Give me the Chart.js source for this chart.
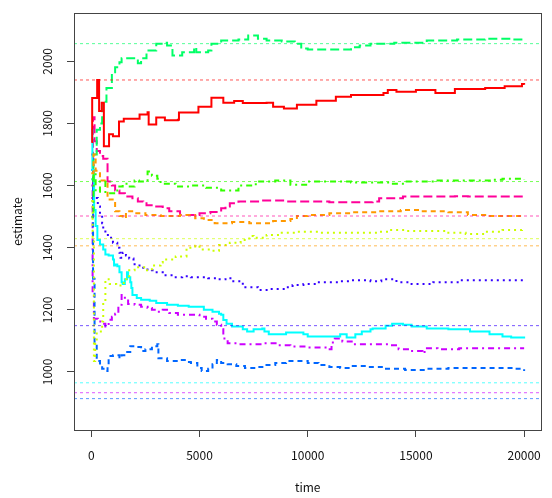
<!DOCTYPE html>
<html>
<head>
<meta charset="utf-8">
<script src="https://cdn.jsdelivr.net/npm/chart.js@4.4.0/dist/chart.umd.min.js"></script>
<style>
html, body { margin: 0; padding: 0; background: #fff; }
</style>
</head>
<body>
<canvas id="estChart" width="552" height="498"></canvas>
<script>
// running estimates over time, [time, estimate]
var red = [[0,1740],[40,1882],[270,1940],[360,1840],[480,1867],[580,1727],[820,1765],[1000,1759],[1280,1806],[1500,1815],[2230,1829],[2600,1836],[2650,1797],[3000,1819],[3400,1810],[4000,1812],[4050,1835],[4950,1854],[5550,1883],[6100,1867],[6600,1872],[7000,1866],[8100,1867],[8400,1854],[8900,1848],[9500,1860],[10400,1873],[11300,1886],[12000,1892],[13500,1898],[13700,1908],[14100,1902],[15000,1908],[15900,1898],[16800,1911],[18200,1914],[19100,1920],[19900,1927],[20000,1925]];
var orange = [[0,1640],[100,1700],[200,1648],[400,1616],[750,1555],[1100,1517],[1300,1502],[1450,1495],[1600,1517],[2000,1511],[2500,1505],[3200,1502],[4100,1505],[4800,1495],[5200,1489],[5700,1479],[6500,1483],[7300,1479],[8400,1486],[9200,1492],[9500,1502],[10000,1505],[11000,1511],[12000,1514],[13200,1517],[14300,1521],[15200,1517],[16500,1514],[17400,1505],[18200,1502],[19900,1505],[20000,1505]];
var yellowGreen = [[0,1550],[60,1420],[120,1035],[180,1098],[250,1130],[500,1162],[550,1225],[650,1298],[850,1283],[1150,1278],[1400,1283],[1500,1298],[1750,1327],[2000,1337],[2500,1327],[2800,1343],[3200,1352],[3300,1362],[3900,1372],[4400,1400],[4800,1406],[5000,1394],[5500,1390],[5900,1409],[6400,1416],[6900,1425],[7300,1438],[7500,1432],[8100,1441],[8800,1448],[9500,1451],[10500,1448],[13200,1451],[13800,1457],[14500,1454],[16400,1448],[17300,1444],[18200,1451],[19000,1457],[19900,1460],[20000,1460]];
var green = [[0,1500],[100,1640],[200,1580],[400,1613],[650,1575],[1200,1597],[1450,1606],[1700,1597],[2000,1616],[2200,1613],[2600,1645],[2800,1632],[3050,1622],[3200,1606],[3900,1597],[4600,1600],[5300,1593],[6000,1584],[6800,1600],[7600,1613],[8500,1616],[9200,1603],[10000,1613],[12000,1610],[13800,1606],[14500,1613],[16000,1616],[18500,1619],[19000,1622],[20000,1619]];
var springGreen = [[0,1620],[100,1700],[250,1780],[400,1800],[500,1870],[700,1914],[950,1965],[1100,1981],[1300,1997],[1400,2010],[1700,2010],[2150,1994],[2300,2010],[2550,2035],[3000,2057],[3300,2060],[3500,2051],[3750,2019],[4200,2029],[4750,2045],[4850,2029],[5400,2035],[5550,2057],[6000,2067],[6800,2070],[7250,2083],[7700,2073],[8100,2067],[8800,2064],[9400,2057],[9700,2041],[10000,2038],[11400,2038],[12000,2045],[12400,2051],[12900,2057],[14000,2060],[15500,2067],[16900,2070],[18200,2073],[19500,2070],[20000,2070]];
var cyan = [[0,1780],[50,1650],[130,1521],[200,1470],[280,1425],[400,1410],[550,1394],[650,1378],[800,1375],[1000,1362],[1050,1343],[1100,1346],[1200,1340],[1300,1321],[1400,1289],[1450,1283],[1550,1298],[1650,1321],[1700,1305],[1800,1289],[1850,1270],[1900,1248],[2100,1238],[2300,1232],[2700,1229],[3000,1222],[3500,1216],[4000,1213],[4500,1210],[4900,1210],[5200,1200],[5600,1194],[5900,1187],[6000,1184],[6100,1167],[6250,1155],[6500,1146],[7000,1137],[7200,1130],[7500,1137],[7900,1140],[8000,1130],[8200,1121],[8600,1121],[9000,1127],[9500,1127],[9800,1121],[10000,1114],[11300,1114],[11500,1121],[11800,1111],[12200,1121],[12500,1130],[12900,1137],[13000,1140],[13600,1149],[13900,1155],[14400,1152],[14800,1146],[15500,1140],[16500,1137],[17500,1130],[18400,1121],[19000,1114],[19400,1111],[20000,1108]];
var blue = [[0,1650],[80,1300],[150,1089],[250,1035],[400,1019],[500,1010],[650,1003],[750,1019],[800,1051],[1000,1054],[1300,1044],[1400,1054],[1600,1064],[1800,1083],[2100,1080],[2300,1067],[2500,1073],[2800,1083],[3050,1089],[3100,1044],[3500,1035],[4000,1038],[4400,1032],[4600,1029],[4900,1013],[5100,1003],[5400,1010],[5600,1025],[5800,1038],[6000,1029],[6300,1025],[6700,1019],[7100,1013],[7600,1016],[8000,1022],[8500,1029],[9000,1035],[9500,1035],[10000,1029],[10500,1022],[11000,1016],[11500,1013],[12000,1019],[12800,1016],[13500,1010],[14500,1006],[15500,1010],[16500,1013],[18000,1013],[19500,1010],[20000,1003]];
var violet = [[0,1700],[100,1560],[300,1533],[400,1505],[500,1479],[550,1457],[650,1441],[850,1432],[1000,1416],[1200,1400],[1300,1384],[1350,1368],[1450,1384],[1600,1375],[1750,1365],[1950,1352],[2000,1343],[2400,1330],[2800,1327],[2900,1321],[3300,1311],[3900,1305],[4200,1308],[4600,1305],[5000,1305],[5400,1302],[5800,1298],[6200,1302],[6500,1292],[7000,1273],[7700,1264],[8200,1267],[9000,1273],[9300,1280],[9800,1283],[10400,1289],[11500,1292],[12000,1295],[12900,1292],[13400,1298],[14100,1289],[14800,1283],[15800,1289],[17000,1295],[19500,1295],[20000,1295]];
var magenta = [[0,1600],[60,1250],[120,1171],[300,1162],[500,1155],[650,1146],[800,1168],[950,1178],[1100,1187],[1250,1216],[1400,1248],[1550,1235],[1700,1219],[2000,1216],[2300,1210],[2600,1206],[2800,1200],[3000,1194],[3300,1200],[3600,1190],[4000,1184],[4500,1184],[5000,1178],[5300,1171],[5600,1162],[5800,1152],[6000,1137],[6100,1108],[6300,1092],[6800,1089],[8000,1092],[8600,1086],[9200,1082],[10000,1079],[10900,1073],[11100,1095],[11250,1108],[11600,1098],[12100,1089],[13800,1086],[14200,1073],[14700,1067],[15300,1060],[15400,1076],[16000,1073],[17000,1076],[20000,1076]];
var pink = [[0,1560],[80,1820],[150,1743],[250,1711],[400,1695],[550,1686],[750,1613],[950,1600],[1100,1584],[1300,1575],[1550,1565],[1900,1559],[2150,1549],[2400,1543],[2550,1537],[3000,1533],[3300,1527],[3600,1517],[4100,1505],[4800,1505],[5000,1511],[5500,1515],[6000,1527],[6200,1533],[6400,1543],[6800,1549],[7800,1552],[9000,1549],[11000,1546],[13000,1549],[13300,1559],[14400,1565],[16800,1566],[17400,1565],[19900,1565],[20000,1562]];

// true value for each series (horizontal reference lines)
var trueValues = [1940, 1406, 1429, 1613, 2057, 965, 914, 1149, 933, 1502];

var xTicks = [0, 5000, 10000, 15000, 20000];
var yTicks = [1000, 1200, 1400, 1600, 1800, 2000];

var series = [red, orange, yellowGreen, green, springGreen, cyan, blue, violet, magenta, pink];
var colors = ['#FF0000', '#FF9900', '#CCFF00', '#33FF00', '#00FF66', '#00FFFF', '#0066FF', '#3300FF', '#CC00FF', '#FF0099'];
// lty 1..5 recycled: solid, dashed, dotted, dotdash, longdash
var dashes = [[], [5, 4], [2, 4], [2, 4, 6, 4], [9, 4]];

var font = { family: "'Noto Sans CJK JP', 'DejaVu Sans', sans-serif", size: 12 };

var datasets = [];
trueValues.forEach(function(v, i) {
  datasets.push({
    data: [{ x: -800, y: v }, { x: 20800, y: v }],
    borderColor: colors[i] + 'AA',
    borderWidth: 1,
    borderDash: [3, 3],
    pointRadius: 0,
    order: 1
  });
});
series.forEach(function(s, i) {
  datasets.push({
    data: s.map(function(p) { return { x: p[0], y: p[1] }; }),
    borderColor: colors[i],
    borderWidth: 2,
    borderDash: dashes[i % 5],
    stepped: true,
    pointRadius: 0,
    order: 2
  });
});

var boxPlugin = {
  id: 'box',
  afterDraw: function(chart) {
    var a = chart.chartArea, c = chart.ctx;
    c.save();
    c.strokeStyle = '#444';
    c.lineWidth = 1;
    c.strokeRect(Math.round(a.left) + 0.5, Math.round(a.top) + 0.5, Math.round(a.right - a.left), Math.round(a.bottom - a.top));
    c.restore();
  }
};

var plain = function(v) { return String(v); };

var ctx = document.getElementById('estChart').getContext('2d');
var myChart = new Chart(ctx, {
  type: 'line',
  data: { datasets: datasets },
  options: {
    responsive: false,
    animation: false,
    layout: { padding: { top: 7, right: 6, left: 0, bottom: 0 } },
    plugins: { legend: { display: false }, tooltip: { enabled: false } },
    scales: {
      x: {
        type: 'linear',
        min: -800,
        max: 20800,
        afterBuildTicks: function(s) { s.ticks = xTicks.map(function(v) { return { value: v }; }); },
        afterFit: function(s) { s.height = 68; },
        grid: { drawOnChartArea: false, tickLength: 7, color: '#444' },
        border: { color: '#444' },
        ticks: { color: '#111', font: font, padding: 11, maxRotation: 0, autoSkip: false, callback: plain },
        title: { display: true, text: 'time', color: '#111', font: font, padding: { top: 0, bottom: 3 } }
      },
      y: {
        type: 'linear',
        min: 813,
        max: 2155,
        afterBuildTicks: function(s) { s.ticks = yTicks.map(function(v) { return { value: v }; }); },
        afterFit: function(s) { s.width = 74; },
        grid: { drawOnChartArea: false, tickLength: 7, color: '#444' },
        border: { color: '#444' },
        ticks: { color: '#111', font: font, padding: 6, minRotation: 90, maxRotation: 90, crossAlign: 'center', autoSkip: false, callback: plain },
        title: { display: true, text: 'estimate', color: '#111', font: font, padding: { top: 10, bottom: 0 } }
      }
    }
  },
  plugins: [boxPlugin]
});
</script>
</body>
</html>
